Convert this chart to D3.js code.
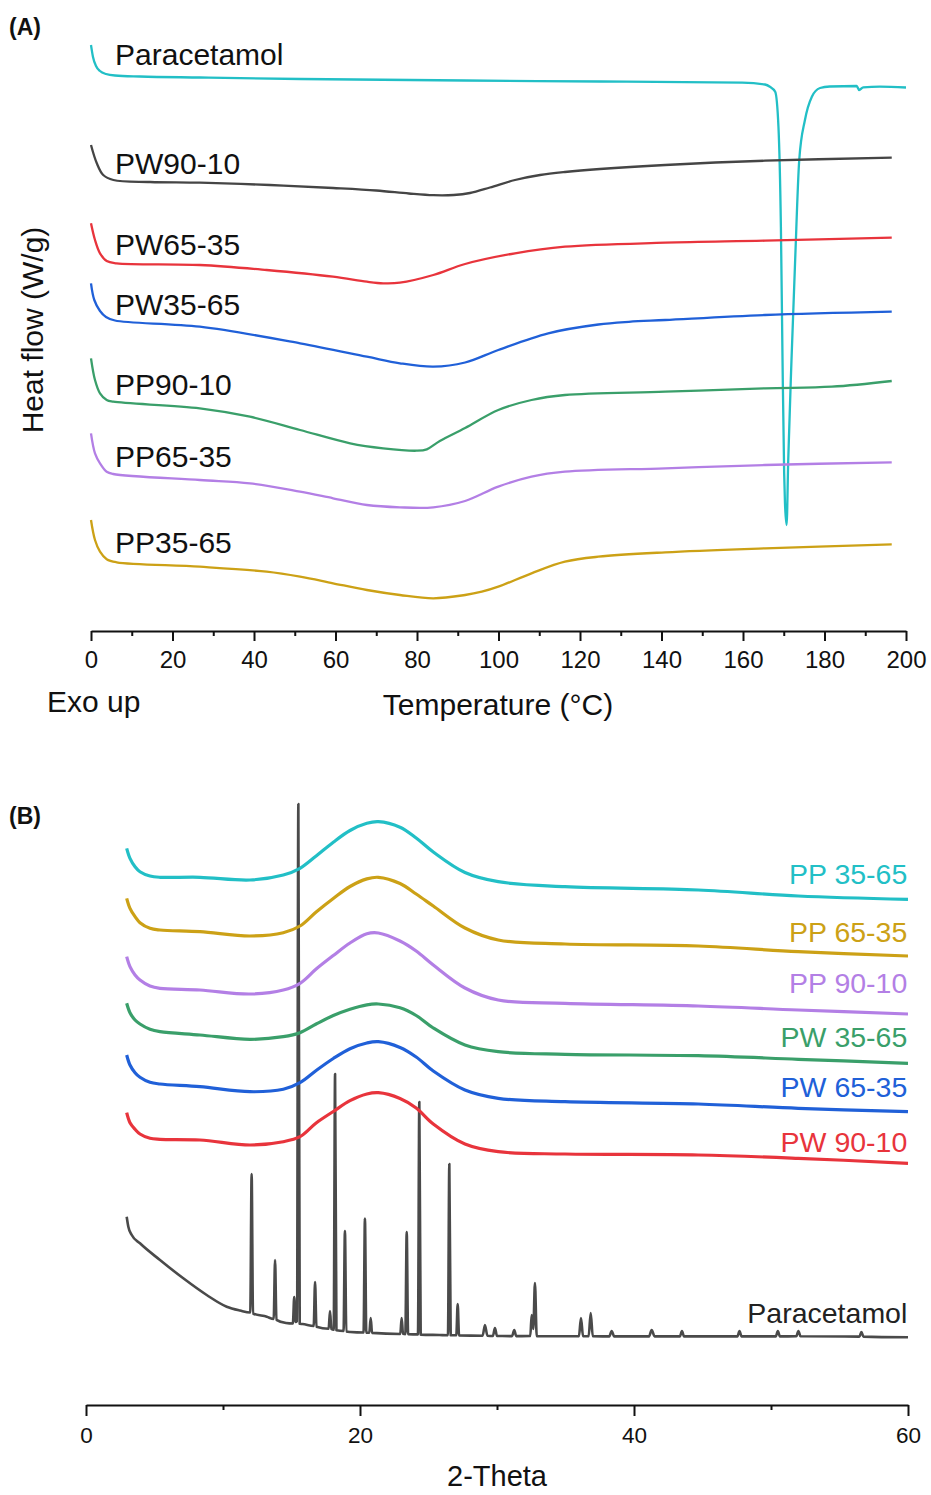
<!DOCTYPE html>
<html><head><meta charset="utf-8">
<script src="https://cdn.jsdelivr.net/npm/d3@7"></script>
<style>
body{margin:0;background:#fff}
svg{display:block}
text{font-family:"Liberation Sans",Arial,sans-serif}
</style>
</head><body>
<svg id="c" width="931" height="1495"></svg>
<script>
// ---------- Panel A: DSC (Temperature °C, heat flow offset, arbitrary units) ----------
const dscNames = ["Paracetamol","PW90-10","PW65-35","PW35-65","PP90-10","PP65-35","PP35-65"];
const dscColors = ["#22bfc6","#454545","#e8343c","#2060d8","#3a9f6a","#b37fe5","#cca116"];
const dscParaT = [0,0.49,1.23,2.21,3.68,5.89,12.02,26.75,51.3,91.8,124.9,159.8,165.4,166.6,167.9,168.7,169.3,169.7,170.1,170.3,170.7,171.1,171.9,172.8,173.8,175.2,176.9,178.9,181.3,187.9,188.5,189.5,193.6,200];
const dscParaV = [58.5,57.3,56.4,55.9,55.6,55.45,55.35,55.25,55.1,54.95,54.85,54.73,54.55,54.33,53.83,50.33,40.33,27,15.7,12.7,10.5,17,27,37,47,51,53.33,54.2,54.35,54.4,54,54.27,54.33,54.25];
const dscPW9010T = [0,1.4,3.0,5.5,14.5,26.7,43.9,59.4,70,78,84,89,93,97.9,104.05,110.2,116.3,124.9,140.9,165.4,196.5];
const dscPW9010V = [48.5,46.7,45.5,45,44.8,44.73,44.5,44.2,43.95,43.65,43.48,43.5,43.7,44.25,45,45.5,45.8,46.1,46.5,46.93,47.23];
const dscPW6535T = [0,0.98,2.21,3.85,6.3,26.7,43.1,59.4,67.7,71.7,75.8,84,91.8,104.05,116.3,140.9,165.4,196.5];
const dscPW6535V = [40.67,39,37.67,36.9,36.67,36.5,36,35.33,34.83,34.67,34.73,35.5,36.6,37.67,38.33,38.73,38.93,39.23];
const dscPW3565T = [0,0.81,2.21,3.68,5.89,26.7,51.3,67.7,75.8,84,91.8,99.95,112.2,124.5,132,140.9,165.4,196.5];
const dscPW3565V = [34.67,33,31.9,31.3,30.95,30.33,28.67,27.33,26.67,26.33,26.75,28,29.67,30.55,30.82,31,31.5,31.83];
const dscPP9010T = [0,0.98,2.21,3.85,5.45,26.7,39,51.3,63.6,71.7,79.9,82.4,85.6,91.8,99.95,108.1,116.3,140.9,165.4,181.8,196.5];
const dscPP9010V = [27.17,25,23.67,23,22.83,22.17,21.33,20,18.67,18.17,17.93,18.07,18.9,20.2,22,23,23.5,23.83,24.17,24.33,24.9];
const dscPP6535T = [0,0.98,2.21,3.85,5.45,26.7,39,51.3,59.4,67.7,75.8,84,91.8,99.95,108.1,116.3,140.9,165.4,196.5];
const dscPP6535V = [19.67,17.67,16.67,15.83,15.6,15,14.67,13.83,13.17,12.5,12.27,12.27,12.9,14.33,15.33,15.83,16.17,16.5,16.77];
const dscPP3565T = [0,0.98,2.21,3.85,6.3,26.7,43.1,51.3,59.4,67.7,75.8,84,91.8,95.9,99.95,108.1,116.3,124.5,140.9,165.4,196.5];
const dscPP3565V = [11,9,7.83,7.07,6.77,6.33,5.83,5.33,4.67,4,3.5,3.17,3.5,3.83,4.33,5.67,6.83,7.33,7.77,8.17,8.57];
const dscTicksMajor = [0,20,40,60,80,100,120,140,160,180,200];
const dscTicksMinor = [10,30,50,70,90,110,130,150,170,190];
const dscLabelY = [56.5,45.6,37.5,31.5,23.5,16.3,7.7];

// ---------- Panel B: XRD (2-Theta, intensity offset, a.u.) ----------
const xrdNames = ["PP 35-65","PP 65-35","PP 90-10","PW 35-65","PW 65-35","PW 90-10"];
const xrdColors = ["#22bfc6","#cca116","#b37fe5","#3a9f6a","#2060d8","#e8343c"];
const xrdTheta = [2.97,3.21,3.58,3.94,4.67,5.4,8.32,11.97,14.4,15.62,16.8,18.05,19.27,20.5,21.34,22.92,24.1,25.35,27.66,30.09,34.96,44.69,51.99,60];
const xrdPP3565 = [5567,5467,5383,5333,5290,5277,5277,5250,5300,5367,5490,5628,5745,5817,5833,5778,5670,5530,5325,5233,5183,5150,5090,5057];
const xrdPP6535 = [5067,4967,4883,4823,4767,4750,4733,4690,4723,4790,4930,5065,5185,5261,5277,5215,5110,4990,4770,4650,4610,4590,4533,4490];
const xrdPP9010 = [4483,4383,4300,4250,4190,4167,4150,4110,4150,4217,4360,4495,4620,4712,4720,4640,4540,4400,4170,4050,4017,3990,3950,3910];
const xrdPW3565 = [4017,3923,3850,3810,3757,3733,3700,3657,3683,3723,3810,3895,3958,4002,4010,3972,3895,3770,3600,3533,3507,3493,3457,3417];
const xrdPW6535 = [3500,3400,3323,3277,3227,3210,3183,3133,3157,3223,3345,3465,3563,3620,3633,3575,3480,3340,3150,3067,3033,3010,2967,2933];
const xrdPW9010 = [2923,2823,2757,2710,2667,2657,2650,2600,2633,2683,2820,2935,3043,3110,3123,3065,2970,2810,2610,2533,2510,2500,2467,2417];
const xrdParaTheta = [2.97,3.09,3.34,3.94,5.4,7.1,8.81,10.27,11.24,11.99,12.09,12.19,13.2,13.7,13.8,13.9,14.6,15.1,15.2,15.3,15.4,15.5,15.6,15.8,16.62,16.72,16.82,17.71,17.81,17.91,18.08,18.18,18.28,18.8,18.9,19.0,19.3,20.26,20.36,20.46,20.68,20.78,20.88,22.94,23.04,23.14,23.31,23.41,23.51,24.23,24.33,24.43,25.8,26.42,26.52,26.62,27.03,27.13,27.23,28.95,29.12,29.3,29.7,29.85,30.0,31.1,31.26,31.4,32.43,32.53,32.65,32.77,32.9,35.98,36.13,36.28,36.69,36.84,36.99,38.2,38.37,38.55,41.1,41.29,41.5,43.35,43.5,43.65,47.55,47.7,47.85,50.35,50.5,50.65,51.85,52.0,52.15,56.45,56.6,56.75,60];
const xrdParaValue = [1883,1783,1700,1617,1450,1267,1100,983,945,925,2310,915,883,860,1450,852,820,815,1080,830,840,6010,812,810,790,1230,782,762,940,760,752,3310,748,740,1740,735,730,725,1864,724,723,870,721,710,870,712,709,1730,708,706,3030,704,700,698,2410,698,697,1010,696,692,800,692,690,770,690,689,750,689,690,900,760,1220,688,687,870,687,688,920,687,686,740,686,686,750,686,686,740,686,686,740,686,686,740,686,688,740,688,684,730,684,677];
const xrdTicksMajor = [0,20,40,60];
const xrdTicksMinor = [10,30,50];

// ---------- drawing ----------
const svg = d3.select("#c");
const font = '"Liberation Sans",Arial,sans-serif';

// Panel A scales
const xA = d3.scaleLinear().domain([0,200]).range([91,906]);
const yA = d3.scaleLinear().domain([0,60]).range([630,30]);
const lineAsmooth = d3.line().x(d=>xA(d[0])).y(d=>yA(d[1])).curve(d3.curveCatmullRom.alpha(0.5));
const lineApeak = d3.line().x(d=>xA(d[0])).y(d=>yA(d[1])).curve(d3.curveMonotoneX);
const dscData = [
  [dscParaT,dscParaV],[dscPW9010T,dscPW9010V],[dscPW6535T,dscPW6535V],[dscPW3565T,dscPW3565V],
  [dscPP9010T,dscPP9010V],[dscPP6535T,dscPP6535V],[dscPP3565T,dscPP3565V]
];
const gA = svg.append("g");
dscData.forEach(([t,v],i)=>{
  gA.append("path").datum(t.map((x,j)=>[x,v[j]]))
    .attr("d", i===0 ? lineApeak : lineAsmooth).attr("fill","none").attr("stroke",dscColors[i])
    .attr("stroke-width",2.3).attr("stroke-linejoin","round");
});
dscNames.forEach((n,i)=>{
  gA.append("text").attr("x",xA(5.9)).attr("y",yA(dscLabelY[i]))
    .attr("font-size",30).attr("fill","#111").text(n);
});
function styleAxis(g,fs){
  g.attr("font-family",font).attr("font-size",fs);
  g.selectAll("path.domain").attr("stroke","#111").attr("stroke-width",2);
  g.selectAll(".tick line").attr("stroke","#111").attr("stroke-width",2);
  g.selectAll(".tick text").attr("fill","#111");
}
const axA = svg.append("g").attr("transform","translate(0,631)")
  .call(d3.axisBottom(xA).tickValues(dscTicksMajor).tickSize(10).tickSizeOuter(0).tickPadding(10).tickFormat(d3.format("d")));
styleAxis(axA,24);
const axAm = svg.append("g").attr("transform","translate(0,631)")
  .call(d3.axisBottom(xA).tickValues(dscTicksMinor).tickSize(5).tickSizeOuter(0).tickFormat(""));
styleAxis(axAm,24);
axAm.select("path.domain").remove();

svg.append("text").attr("transform","translate(43,330) rotate(-90)").attr("text-anchor","middle")
  .attr("font-size",30).attr("fill","#111").text("Heat flow (W/g)");
svg.append("text").attr("x",47).attr("y",712).attr("font-size",30).attr("fill","#111").text("Exo up");
svg.append("text").attr("x",498).attr("y",715).attr("text-anchor","middle").attr("font-size",30).attr("fill","#111").text("Temperature (°C)");
svg.append("text").attr("x",9).attr("y",35).attr("font-size",23).attr("font-weight","bold").attr("fill","#111").text("(A)");

// Panel B scales
const xB = d3.scaleLinear().domain([0,60]).range([86,908]);
const yB = d3.scaleLinear().domain([0,6100]).range([1405,795]);
const lineB = d3.line().x(d=>xB(d[0])).y(d=>yB(d[1])).curve(d3.curveCatmullRom.alpha(0.5));
const lineBpara = d3.line().x(d=>xB(d[0])).y(d=>yB(d[1])).curve(d3.curveMonotoneX);
const gB = svg.append("g");
gB.append("path").datum(xrdParaTheta.map((x,j)=>[x,xrdParaValue[j]]))
  .attr("d",lineBpara).attr("fill","none").attr("stroke","#4a4a4a").attr("stroke-width",2.6).attr("stroke-linejoin","round");
const xrdSeries = [xrdPP3565,xrdPP6535,xrdPP9010,xrdPW3565,xrdPW6535,xrdPW9010];
xrdSeries.slice().reverse().forEach((s,k)=>{
  const i = xrdSeries.length-1-k;
  gB.append("path").datum(xrdTheta.map((x,j)=>[x,s[j]]))
    .attr("d",lineB).attr("fill","none").attr("stroke",xrdColors[i]).attr("stroke-width",3.2).attr("stroke-linejoin","round");
});
const xrdLabelV = [5210,4633,4117,3577,3083,2533];
xrdNames.forEach((n,i)=>{
  gB.append("text").attr("x",xB(59.95)).attr("y",yB(xrdLabelV[i])).attr("text-anchor","end")
    .attr("font-size",28.5).attr("fill",xrdColors[i]).text(n);
});
gB.append("text").attr("x",xB(59.95)).attr("y",yB(817)).attr("text-anchor","end")
  .attr("font-size",28.5).attr("fill","#222").text("Paracetamol");

const axB = svg.append("g").attr("transform","translate(0,1405)")
  .call(d3.axisBottom(xB).tickValues(xrdTicksMajor).tickSize(11).tickSizeOuter(0).tickPadding(11).tickFormat(d3.format("d")));
styleAxis(axB,22.5);
const axBm = svg.append("g").attr("transform","translate(0,1405)")
  .call(d3.axisBottom(xB).tickValues(xrdTicksMinor).tickSize(5).tickSizeOuter(0).tickFormat(""));
styleAxis(axBm,22.5);
axBm.select("path.domain").remove();
svg.append("text").attr("x",497).attr("y",1486).attr("text-anchor","middle").attr("font-size",29).attr("fill","#111").text("2-Theta");
svg.append("text").attr("x",9).attr("y",824).attr("font-size",23).attr("font-weight","bold").attr("fill","#111").text("(B)");
</script>
</body></html>
